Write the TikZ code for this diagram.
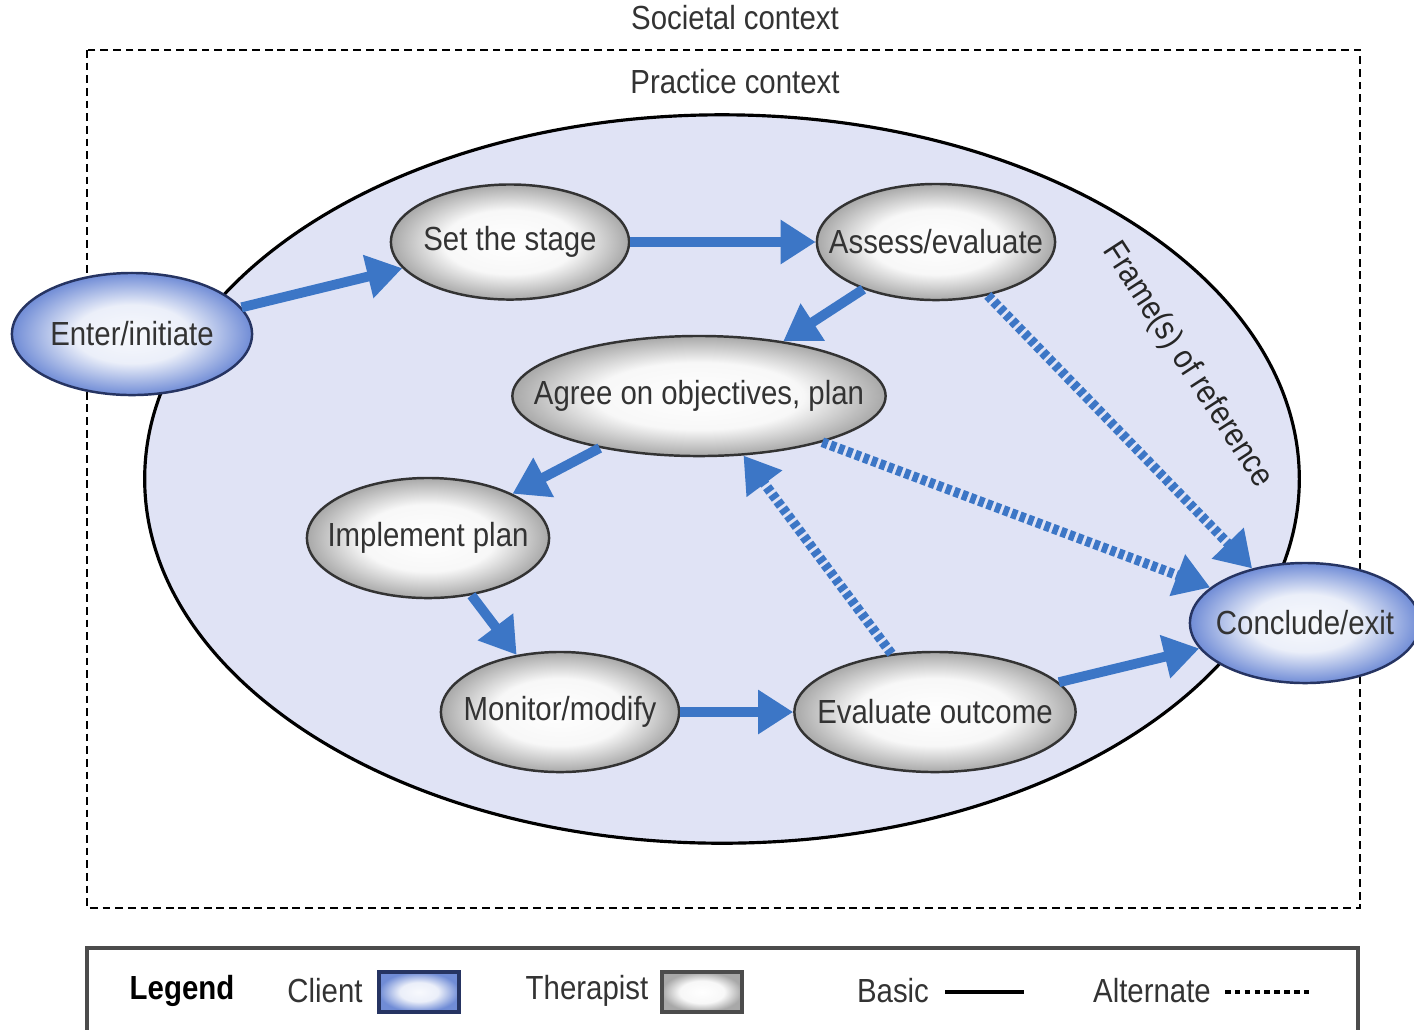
\documentclass[tikz,border=0pt]{standalone}
\usepackage{fontspec}
\setmainfont{Liberation Sans}[FakeStretch=0.88]
\usetikzlibrary{shapes.geometric,arrows.meta}

\definecolor{flowblue}{RGB}{60,118,198}
\definecolor{practicefill}{RGB}{224,227,245}
\definecolor{clientblue}{RGB}{112,140,214}
\definecolor{clientline}{RGB}{38,52,98}

\pgfdeclareradialshading{therapistshade}{\pgfpoint{0bp}{0bp}}{color(0bp)=(white); color(14bp)=(white!97!black); color(25bp)=(black!34); color(50bp)=(black!34)}
\pgfdeclareradialshading{clientshade}{\pgfpoint{0bp}{0bp}}{color(0bp)=(white!95!clientblue); color(12bp)=(white!86!clientblue); color(25bp)=(clientblue); color(50bp)=(clientblue)}

\tikzset{
  stage/.style={ellipse, draw=black!80, line width=0.7pt, inner sep=0pt,
    font=\fontsize{9.5}{11}\selectfont, text=black!80,
    execute at begin node={\hbox to 0pt\bgroup\hss}, execute at end node={\hss\egroup}},
  client/.style={stage, draw=clientline, shading=clientshade},
  therapist/.style={stage, shading=therapistshade},
  basic/.style={draw=flowblue, line width=2.8pt, -{Triangle[length=10pt,width=12pt]}},
  alternate/.style={basic, dash pattern=on 1.6pt off 0.9pt},
  ctxline/.style={line width=0.8pt, dash pattern=on 2.2pt off 1.4pt},
  keybox/.style={rectangle, minimum width=0.8cm, minimum height=0.4cm, line width=0.9pt}
}

\begin{document}
\begin{tikzpicture}[x=0.01cm, y=-0.01cm, font=\fontsize{9.5}{11}\selectfont]
\useasboundingbox (0,0) rectangle (1414,1029);
\clip (0,0) rectangle (1414,1029);

% contexts
\draw[ctxline] (87,50) rectangle (1360,908);
\node[text=black!80] (societal) at (735,18) {Societal context};
\node[text=black!80] (practice) at (735,82) {Practice context};
\draw[fill=practicefill, line width=0.9pt] (722,479) ellipse [x radius=5.77cm, y radius=3.64cm];
\node[rotate=-57, text=black!85] (frame) at (1187,365) {Frame(s) of reference};

% stages
\node[client, minimum width=2.4cm, minimum height=1.22cm] (enter) at (132,334) {Enter/initiate};
\node[therapist, minimum width=2.38cm, minimum height=1.15cm] (stage) at (510,242) {Set the stage};
\node[therapist, minimum width=2.38cm, minimum height=1.16cm] (assess) at (936,242) {Assess/evaluate};
\node[therapist, minimum width=3.73cm, minimum height=1.2cm] (agree) at (699,396) {Agree on objectives, plan};
\node[therapist, minimum width=2.42cm, minimum height=1.2cm] (implement) at (428,538) {Implement plan};
\node[therapist, minimum width=2.38cm, minimum height=1.2cm] (monitor) at (560,712) {Monitor/modify};
\node[therapist, minimum width=2.81cm, minimum height=1.2cm] (outcome) at (935,712) {Evaluate outcome};
\node[client, minimum width=2.3cm, minimum height=1.2cm] (conclude) at (1305,623) {Conclude/exit};

% basic path
\draw[basic] (enter) -- (stage);
\draw[basic] (stage) -- (assess);
\draw[basic] (assess) -- (agree);
\draw[basic] (agree) -- (implement);
\draw[basic] (implement) -- (monitor);
\draw[basic] (monitor) -- (outcome);
\draw[basic] (outcome) -- (conclude);

% alternate paths
\draw[alternate] (assess) -- (conclude);
\draw[alternate] (agree) -- (conclude);
\draw[alternate] (outcome) -- (agree);

% legend
\draw[line width=0.9pt, draw=black!70] (87,1040) |- (1358,948) -- (1358,1040);
\node[font=\fontsize{9.5}{11}\selectfont\bfseries] (legend) at (182,991) {Legend};
\node[text=black!80] (clientkey) at (325,991) {Client};
\node[keybox, draw=clientline, shading=clientshade] (clientbox) at (419,992) {};
\node[text=black!80] (therapistkey) at (587,991) {Therapist};
\node[keybox, draw=black!70, shading=therapistshade] (therapistbox) at (702,992) {};
\node[text=black!80] (basickey) at (893,991) {Basic};
\draw[line width=1.3pt] (945,992) -- (1024,992);
\node[text=black!80] (altkey) at (1152,991) {Alternate};
\draw[line width=1.3pt, dash pattern=on 1.6pt off 1.2pt] (1225,992) -- (1313,992);
\end{tikzpicture}
\end{document}
